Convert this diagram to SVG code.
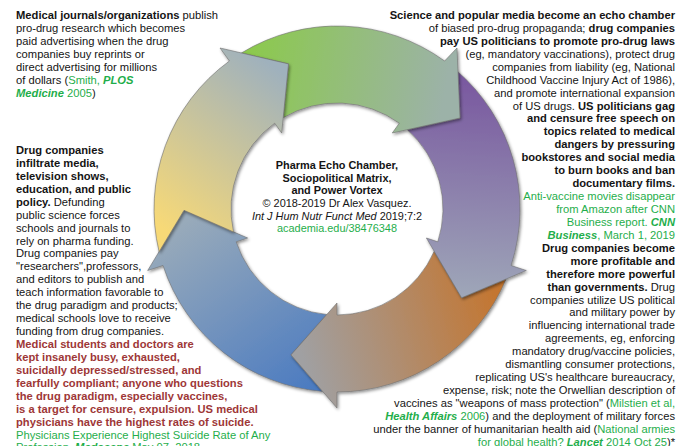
<svg xmlns="http://www.w3.org/2000/svg" width="695" height="446" viewBox="0 0 695 446">
<style>
text{font-family:"Liberation Sans",Arial,Helvetica,sans-serif;font-size:11.2px;fill:#141414}
.b{font-weight:bold}
.bi{font-weight:bold;font-style:italic}
.i{font-style:italic}
.g{fill:#1fae4b}
.r{fill:#9e3737;font-weight:bold}
.e{text-anchor:end}
.m{text-anchor:middle;font-size:10.9px}
.arrow{stroke:#6e6e6e;stroke-width:0.6;filter:url(#sh)}
</style>
<defs>
<filter id="sh" x="-15%" y="-15%" width="130%" height="130%">
<feDropShadow dx="1.2" dy="1.6" stdDeviation="1.6" flood-color="#000" flood-opacity="0.45"/>
</filter>
<linearGradient id="gY" gradientUnits="userSpaceOnUse" x1="165" y1="230" x2="285" y2="75"><stop offset="0" stop-color="#f7d977"/><stop offset="1" stop-color="#9fb1bd"/></linearGradient>
<linearGradient id="gG" gradientUnits="userSpaceOnUse" x1="250" y1="60" x2="445" y2="95"><stop offset="0" stop-color="#8cc94e"/><stop offset="1" stop-color="#9cb2a8"/></linearGradient>
<linearGradient id="gP" gradientUnits="userSpaceOnUse" x1="480" y1="85" x2="465" y2="295"><stop offset="0" stop-color="#7a5aa0"/><stop offset="1" stop-color="#9ea6b8"/></linearGradient>
<linearGradient id="gO" gradientUnits="userSpaceOnUse" x1="505" y1="290" x2="300" y2="350"><stop offset="0" stop-color="#c5742c"/><stop offset="1" stop-color="#a0a0a2"/></linearGradient>
<linearGradient id="gB" gradientUnits="userSpaceOnUse" x1="320" y1="395" x2="195" y2="215"><stop offset="0" stop-color="#4879c1"/><stop offset="1" stop-color="#98aaba"/></linearGradient>
</defs>
<rect width="695" height="446" fill="#ffffff"/>

<g id="connectors">
<path id="arrow-blue" class="arrow" fill="url(#gB)" d="M322.6,391.4 A183,183 0 0 1 163.0,265.5 L147.7,270.5 L184.0,210.3 L247.6,238.0 L236.2,241.8 A106,106 0 0 0 326.8,314.5 L291.0,354.9 Z"/>
<path id="arrow-orange" class="arrow" fill="url(#gO)" d="M506.1,279.0 A183,183 0 0 1 337,392 L337,408 L291.0,354.9 L337,303 L337,315 A106,106 0 0 0 434.2,251.3 L461.6,297.8 Z"/>
<path id="arrow-purple" class="arrow" fill="url(#gP)" d="M455.8,69.9 A183,183 0 0 1 511.1,265.5 L526.3,270.5 L461.6,297.8 L426.4,238.0 L437.8,241.8 A106,106 0 0 0 407.2,129.6 L460.0,118.0 Z"/>
<path id="arrow-green" class="arrow" fill="url(#gG)" d="M241.4,53.0 A183,183 0 0 1 444.6,61.0 L457.0,48.0 L460.0,118.0 L392.3,133.0 L399.3,123.2 A106,106 0 0 0 283.2,117.7 L288.5,63.9 Z"/>
<path id="arrow-yellow" class="arrow" fill="url(#gY)" d="M159.1,251.7 A183,183 0 0 1 229.4,61.0 L220.0,48.0 L288.5,63.9 L281.7,133.0 L274.7,123.2 A106,106 0 0 0 233.5,231.9 L184.0,210.3 Z"/>
</g>

<g id="node-center">
<text class="m b" x="337" y="169">Pharma Echo Chamber,</text>
<text class="m b" x="337" y="181.6">Sociopolitical Matrix,</text>
<text class="m b" x="337" y="194.3">and Power Vortex</text>
<text class="m" x="337" y="206.9">© 2018-2019 Dr Alex Vasquez.</text>
<text class="m" x="337" y="219.6"><tspan class="i">Int J Hum Nutr Funct Med</tspan> 2019;7:2</text>
<text class="m g" x="337" y="232.2">academia.edu/38476348</text>
</g>

<g id="node-journals">
<text x="16" y="19"><tspan class="b">Medical journals/organizations</tspan> publish</text>
<text x="16" y="31.9">pro-drug research which becomes</text>
<text x="16" y="44.9">paid advertising when the drug</text>
<text x="16" y="57.8">companies buy reprints or</text>
<text x="16" y="70.7">direct advertising for millions</text>
<text x="16" y="83.7">of dollars (<tspan class="g">Smith, <tspan class="bi">PLOS</tspan></tspan></text>
<text x="16" y="96.6"><tspan class="g"><tspan class="bi">Medicine</tspan> 2005</tspan>)</text>
</g>

<g id="node-media">
<text class="e b" x="675" y="19">Science and popular media become an echo chamber</text>
<text class="e" x="675" y="31.9">of biased pro-drug propaganda; <tspan class="b">drug companies</tspan></text>
<text class="e b" x="675" y="44.9">pay US politicians to promote pro-drug laws</text>
<text class="e" x="675" y="57.8">(eg, mandatory vaccinations), protect drug</text>
<text class="e" x="675" y="70.7">companies from liability (eg, National</text>
<text class="e" x="675" y="83.7">Childhood Vaccine Injury Act of 1986),</text>
<text class="e" x="675" y="96.6">and promote international expansion</text>
<text class="e" x="675" y="109.5">of US drugs. <tspan class="b">US politicians gag</tspan></text>
<text class="e b" x="675" y="122.4">and censure free speech on</text>
<text class="e b" x="675" y="135.4">topics related to medical</text>
<text class="e b" x="675" y="148.3">dangers by pressuring</text>
<text class="e b" x="675" y="161.2">bookstores and social media</text>
<text class="e b" x="675" y="174.2">to burn books and ban</text>
<text class="e b" x="675" y="187.1">documentary films.</text>
<text class="e g" x="675" y="200">Anti-vaccine movies disappear</text>
<text class="e g" x="675" y="213">from Amazon after CNN</text>
<text class="e g" x="675" y="225.9">Business report. <tspan class="bi">CNN</tspan></text>
<text class="e g" x="675" y="238.8"><tspan class="bi">Business</tspan>, March 1, 2019</text>
</g>

<g id="node-profit">
<text class="e b" x="675" y="251.7">Drug companies become</text>
<text class="e b" x="675" y="264.7">more profitable and</text>
<text class="e b" x="675" y="277.6">therefore more powerful</text>
<text class="e" x="675" y="290.5"><tspan class="b">than governments.</tspan> Drug</text>
<text class="e" x="675" y="303.5">companies utilize US political</text>
<text class="e" x="675" y="316.4">and military power by</text>
<text class="e" x="675" y="329.3">influencing international trade</text>
<text class="e" x="675" y="342.3">agreements, eg, enforcing</text>
<text class="e" x="675" y="355.2">mandatory drug/vaccine policies,</text>
<text class="e" x="675" y="368.1">dismantling consumer protections,</text>
<text class="e" x="675" y="381">replicating US's healthcare bureaucracy,</text>
<text class="e" x="675" y="394">expense, risk; note the Orwellian description of</text>
<text class="e" x="675" y="406.9">vaccines as "weapons of mass protection" (<tspan class="g">Milstien et al,</tspan></text>
<text class="e" x="675" y="419.8"><tspan class="g"><tspan class="bi">Health Affairs</tspan> 2006</tspan>) and the deployment of military forces</text>
<text class="e" x="675" y="432.8">under the banner of humanitarian health aid (<tspan class="g">National armies</tspan></text>
<text class="e" x="675" y="445.7"><tspan class="g">for global health? <tspan class="bi">Lancet</tspan> 2014 Oct 25</tspan>)*</text>
</g>

<g id="node-infiltrate">
<text class="b" x="16" y="154">Drug companies</text>
<text class="b" x="16" y="166.9">infiltrate media,</text>
<text class="b" x="16" y="179.9">television shows,</text>
<text class="b" x="16" y="192.8">education, and public</text>
<text x="16" y="205.7"><tspan class="b">policy.</tspan> Defunding</text>
<text x="16" y="218.7">public science forces</text>
<text x="16" y="231.6">schools and journals to</text>
<text x="16" y="244.5">rely on pharma funding.</text>
<text x="16" y="257.4">Drug companies pay</text>
<text x="16" y="270.4">"researchers",professors,</text>
<text x="16" y="283.3">and editors to publish and</text>
<text x="16" y="296.2">teach information favorable to</text>
<text x="16" y="309.2">the drug paradigm and products;</text>
<text x="16" y="322.1">medical schools love to receive</text>
<text x="16" y="335">funding from drug companies.</text>
<text class="r" x="16" y="348">Medical students and doctors are</text>
<text class="r" x="16" y="360.9">kept insanely busy, exhausted,</text>
<text class="r" x="16" y="373.8">suicidally depressed/stressed, and</text>
<text class="r" x="16" y="386.7">fearfully compliant; anyone who questions</text>
<text class="r" x="16" y="399.7">the drug paradigm, especially vaccines,</text>
<text class="r" x="16" y="412.6">is a target for censure, expulsion. US medical</text>
<text class="r" x="16" y="425.5">physicians have the highest rates of suicide.</text>
<text class="g" x="16" y="438.5">Physicians Experience Highest Suicide Rate of Any</text>
<text class="g" x="16" y="451.4">Profession. <tspan class="bi">Medscape</tspan> May 07, 2018</text>
</g>
</svg>
